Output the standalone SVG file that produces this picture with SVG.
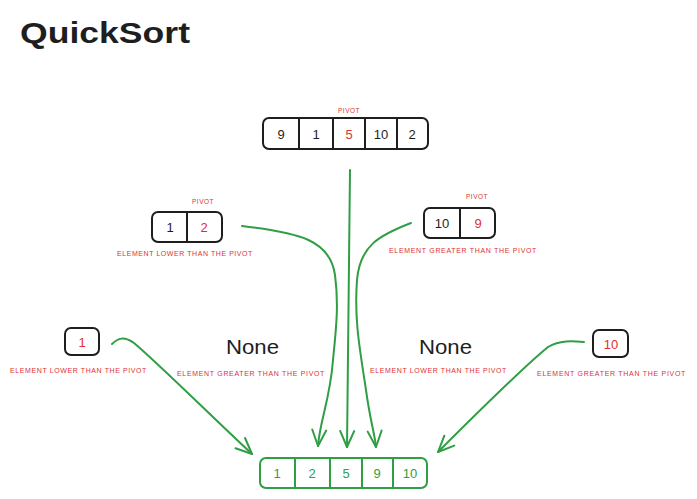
<svg xmlns="http://www.w3.org/2000/svg" width="697" height="499" viewBox="0 0 697 499">
<defs>
<style>
.box{fill:#ffffff;stroke:#1e1e1e;stroke-width:2;}
.div{stroke:#1e1e1e;stroke-width:2;fill:none;}
.gbox{fill:#ffffff;stroke:#2f9e44;stroke-width:2;}
.gdiv{stroke:#2f9e44;stroke-width:2;fill:none;}
.num{font-family:"Liberation Sans",Arial,sans-serif;font-size:13px;fill:#1e1e1e;text-anchor:middle;dominant-baseline:central;}
.red{fill:#e03131;}
.grn{fill:#2f9e44;}
.lbl{font-family:"Liberation Sans",Arial,sans-serif;font-size:7px;fill:#e03131;letter-spacing:0.6px;}
.pv{font-family:"Liberation Sans",Arial,sans-serif;font-size:6.5px;fill:#e03131;text-anchor:middle;letter-spacing:0.5px;}
.none{font-family:"Liberation Sans",Arial,sans-serif;font-size:21px;fill:#1e1e1e;}
.title{font-family:"Liberation Sans",Arial,sans-serif;font-size:30px;font-weight:bold;fill:#1e1e1e;}
.con{fill:none;stroke:#2f9e44;stroke-width:2;stroke-linecap:round;}
</style>
<marker id="ah" viewBox="0 0 20 20" refX="18" refY="10" markerWidth="20" markerHeight="20" markerUnits="userSpaceOnUse" orient="auto">
<path d="M2,3 L18,10 L2,17" fill="none" stroke="#2f9e44" stroke-width="2" stroke-linecap="round" stroke-linejoin="round"/>
</marker>
</defs>
<rect width="697" height="499" fill="#ffffff"/>
<text class="title" x="20" y="43" textLength="170" lengthAdjust="spacingAndGlyphs">QuickSort</text>

<g id="top-array">
<rect class="box" x="263" y="118" width="165" height="31" rx="6"/>
<line class="div" x1="299" y1="118" x2="299" y2="149"/>
<line class="div" x1="333" y1="118" x2="333" y2="149"/>
<line class="div" x1="365" y1="118" x2="365" y2="149"/>
<line class="div" x1="397" y1="118" x2="397" y2="149"/>
<text class="num" x="281" y="134">9</text>
<text class="num" x="316" y="134">1</text>
<text class="num red" x="349" y="134">5</text>
<text class="num" x="381" y="134">10</text>
<text class="num" x="412" y="134">2</text>
<text class="pv" x="349" y="113">PIVOT</text>
</g>

<g id="left-array">
<rect class="box" x="152" y="212" width="70" height="30" rx="6"/>
<line class="div" x1="187" y1="212" x2="187" y2="242"/>
<text class="num" x="170" y="227">1</text>
<text class="num red" x="204" y="227">2</text>
<text class="pv" x="203" y="204">PIVOT</text>
<text class="lbl" x="117" y="256" textLength="136">ELEMENT LOWER THAN THE PIVOT</text>
</g>

<g id="right-array">
<rect class="box" x="424" y="208" width="71" height="30" rx="6"/>
<line class="div" x1="460" y1="208" x2="460" y2="238"/>
<text class="num" x="442" y="223">10</text>
<text class="num red" x="478" y="223">9</text>
<text class="pv" x="477" y="199">PIVOT</text>
<text class="lbl" x="389" y="253" textLength="148">ELEMENT GREATER THAN THE PIVOT</text>
</g>

<g id="node-1">
<rect class="box" x="65" y="328" width="34" height="27" rx="6"/>
<text class="num red" x="82" y="342">1</text>
<text class="lbl" x="10" y="373" textLength="137">ELEMENT LOWER THAN THE PIVOT</text>
</g>

<g id="none-left">
<text class="none" x="226" y="354" textLength="53" lengthAdjust="spacingAndGlyphs">None</text>
<text class="lbl" x="177" y="376" textLength="148">ELEMENT GREATER THAN THE PIVOT</text>
</g>

<g id="none-right">
<text class="none" x="419" y="354" textLength="53" lengthAdjust="spacingAndGlyphs">None</text>
<text class="lbl" x="370" y="373" textLength="137">ELEMENT LOWER THAN THE PIVOT</text>
</g>

<g id="node-10">
<rect class="box" x="593" y="330" width="35" height="27" rx="6"/>
<text class="num red" x="611" y="344">10</text>
<text class="lbl" x="537" y="376" textLength="149">ELEMENT GREATER THAN THE PIVOT</text>
</g>

<g id="sorted-array">
<rect class="gbox" x="260" y="458" width="167" height="30" rx="6"/>
<line class="gdiv" x1="295" y1="458" x2="295" y2="488"/>
<line class="gdiv" x1="330" y1="458" x2="330" y2="488"/>
<line class="gdiv" x1="362" y1="458" x2="362" y2="488"/>
<line class="gdiv" x1="393" y1="458" x2="393" y2="488"/>
<text class="num grn" x="277" y="473">1</text>
<text class="num grn" x="312" y="473">2</text>
<text class="num grn" x="346" y="473">5</text>
<text class="num grn" x="377" y="473">9</text>
<text class="num grn" x="410" y="473">10</text>
</g>

<g id="connectors">
<path class="con" marker-end="url(#ah)" d="M242,226 C300,233 330,240 335,275 C339,305 336,330 333,360 C330,400 320,420 318,446"/>
<path class="con" marker-end="url(#ah)" d="M350,170 L347,447"/>
<path class="con" marker-end="url(#ah)" d="M411,223 C380,235 360,245 357,280 C354,320 360,350 366,390 C370,420 375,435 376,447"/>
<path class="con" marker-end="url(#ah)" d="M112,344 C118,338 124,336 134,343 C160,365 210,415 252,454"/>
<path class="con" marker-end="url(#ah)" d="M584,342 C572,341 560,340 548,347 C520,370 470,420 438,452"/>
</g>
</svg>
